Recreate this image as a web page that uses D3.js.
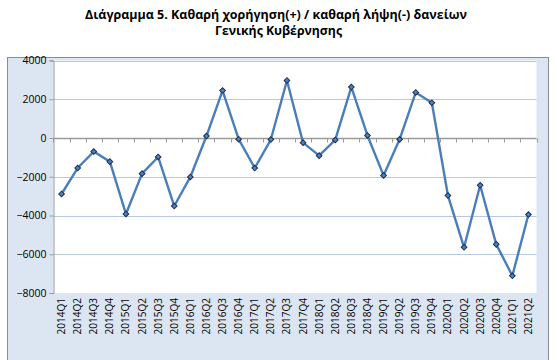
<!DOCTYPE html>
<html><head><meta charset="utf-8">
<script src="https://cdn.jsdelivr.net/npm/d3@7/dist/d3.min.js"></script>
<style>body{margin:0;background:#fff;} svg{display:block;}</style>
</head><body>
<svg id="c" width="557" height="360"></svg>
<script>
const titleLines = ["Διάγραμμα 5. Καθαρή χορήγηση(+) / καθαρή λήψη(-) δανείων", "Γενικής Κυβέρνησης"];
const categories = ["2014Q1","2014Q2","2014Q3","2014Q4","2015Q1","2015Q2","2015Q3","2015Q4",
  "2016Q1","2016Q2","2016Q3","2016Q4","2017Q1","2017Q2","2017Q3","2017Q4",
  "2018Q1","2018Q2","2018Q3","2018Q4","2019Q1","2019Q2","2019Q3","2019Q4",
  "2020Q1","2020Q2","2020Q3","2020Q4","2021Q1","2021Q2"];
const values = [-2890,-1550,-700,-1220,-3920,-1840,-980,-3510,
  -2010,100,2450,-60,-1550,-80,2970,-240,
  -910,-100,2630,130,-1930,-70,2350,1820,
  -2970,-5640,-2440,-5490,-7110,-3950];
const yTicks = [4000,2000,0,-2000,-4000,-6000,-8000];

const svg = d3.select("#c");
const font = "'Open Sans', 'DejaVu Sans', sans-serif";

// outer chart area
svg.append("rect").attr("x",7.5).attr("y",57.5).attr("width",541).attr("height",310)
  .attr("fill","#dce6f2").attr("stroke","#8c8c8c").attr("stroke-width",1);

const L = 53.5, R = 536.5, T = 60.5, B = 293;
svg.append("rect").attr("x",L).attr("y",T).attr("width",R-L).attr("height",B-T).attr("fill","#fff");

const x = d3.scaleBand().domain(categories).range([L,R]);
const y = d3.scaleLinear().domain([-8000,4000]).range([B,T]);

// gridlines
svg.append("g").selectAll("line").data(yTicks.filter(d=>d!==0 && d!==-8000)).join("line")
  .attr("x1",L).attr("x2",R).attr("y1",d=>Math.round(y(d))+0.5).attr("y2",d=>Math.round(y(d))+0.5)
  .attr("stroke","#b4c9e3").attr("stroke-width",1);

// y axis
const yAxis = d3.axisLeft(y).tickValues(yTicks).tickSize(4).tickPadding(3).tickFormat(d3.format("d"));
const gy = svg.append("g").attr("transform",`translate(${L},0)`).call(yAxis);
gy.select(".domain").attr("stroke","#9a9a9a");
gy.selectAll(".tick line").attr("stroke","#9a9a9a");
gy.selectAll(".tick text").attr("font-family",font).attr("font-size","10.5px").attr("fill","#000");

// x axis at zero with ticks between categories
const y0 = Math.round(y(0))+0.5;
svg.append("line").attr("x1",L).attr("x2",R).attr("y1",y0).attr("y2",y0).attr("stroke","#9a9a9a").attr("stroke-width",1.3);
const bounds = categories.map(c=>x(c)).concat([R]);
svg.append("g").selectAll("line").data(bounds).join("line")
  .attr("x1",d=>Math.round(d)+0.5).attr("x2",d=>Math.round(d)+0.5).attr("y1",y0).attr("y2",y0+4)
  .attr("stroke","#9a9a9a");

// x labels at bottom
svg.append("g").selectAll("text").data(categories).join("text")
  .attr("transform",d=>`translate(${x(d)+x.bandwidth()/2+3.5},298) rotate(-90)`)
  .attr("text-anchor","end").attr("font-family",font).attr("font-size","10px").attr("fill","#000")
  .text(d=>d);

// line
const line = d3.line().x((d,i)=>x(categories[i])+x.bandwidth()/2).y(d=>y(d));
svg.append("path").datum(values).attr("d",line).attr("fill","none")
  .attr("stroke","#4a7ebb").attr("stroke-width",2.4).attr("stroke-linejoin","round");

// markers
svg.append("g").selectAll("path").data(values).join("path")
  .attr("d",d3.symbol().type(d3.symbolSquare).size(16))
  .attr("transform",(d,i)=>`translate(${x(categories[i])+x.bandwidth()/2},${y(d)}) rotate(45)`)
  .attr("fill","#4f81bd").attr("stroke","#1c2f4f").attr("stroke-width",1);

// title
const tg = svg.append("g");
tg.append("text").attr("x",85).attr("y",19)
  .attr("font-family",font).attr("font-weight","bold").attr("font-size","12px").attr("fill","#000")
  .attr("textLength",382).attr("lengthAdjust","spacingAndGlyphs").text(titleLines[0]);
tg.append("text").attr("x",215).attr("y",35)
  .attr("font-family",font).attr("font-weight","bold").attr("font-size","12px").attr("fill","#000")
  .attr("textLength",127).attr("lengthAdjust","spacingAndGlyphs").text(titleLines[1]);
</script>
</body></html>
